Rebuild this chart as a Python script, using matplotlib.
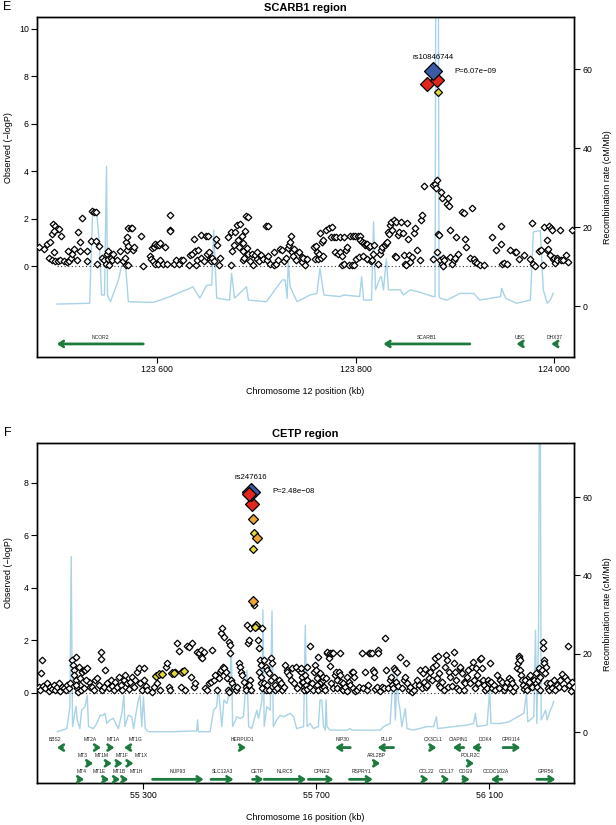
import matplotlib
matplotlib.use('Agg')
import matplotlib.pyplot as plt
import matplotlib.transforms as mtransforms

plt.rcParams['font.family'] = ['Liberation Sans', 'DejaVu Sans']

# ------------------------------------------------------------------------------
# Panel E : SCARB1 region (chr12)
# ------------------------------------------------------------------------------
e_pos = [123481, 123486, 123489, 123492, 123494, 123495, 123497, 123499, 123501, 123503, 123496, 123491,
         123494, 123496, 123497, 123500, 123502, 123506, 123509, 123511, 123513, 123510, 123514, 123516,
         123519, 123520, 123522, 123522, 123524, 123529, 123529, 123533, 123534, 123536, 123538, 123538,
         123539, 123541, 123544, 123546, 123548, 123549, 123550, 123551, 123552, 123554, 123555, 123556,
         123560, 123563, 123566, 123568, 123569, 123570, 123569, 123570, 123571, 123571, 123574, 123575,
         123576, 123577, 123571, 123584, 123586, 123593, 123594, 123595, 123597, 123598, 123600, 123602,
         123603, 123596, 123598, 123601, 123603, 123606, 123608, 123610, 123613, 123613, 123613, 123617,
         123619, 123622, 123624, 123626, 123632, 123633, 123635, 123637, 123638, 123639, 123640, 123641,
         123644, 123644, 123647, 123649, 123650, 123651, 123652, 123653, 123654, 123655, 123657, 123659,
         123660, 123662, 123663, 123671, 123674, 123674, 123675, 123677, 123678, 123680, 123681, 123682,
         123683, 123685, 123686, 123687, 123687, 123688, 123689, 123690, 123692, 123691, 123692, 123694,
         123696, 123697, 123699, 123701, 123701, 123703, 123705, 123707, 123710, 123712, 123711, 123712,
         123714, 123718, 123718, 123720, 123722, 123724, 123726, 123728, 123730, 123732, 123733, 123734,
         123735, 123736, 123737, 123738, 123740, 123743, 123746, 123748, 123749,
         123746, 123747, 123749, 123751, 123758, 123759, 123760, 123761, 123762, 123763, 123764, 123765,
         123766, 123767, 123767, 123770, 123773, 123775, 123776, 123778, 123779, 123780, 123782, 123784,
         123784, 123786, 123786, 123788, 123788, 123790, 123791, 123793, 123794, 123796, 123797, 123798,
         123799, 123800, 123802, 123803, 123804, 123804, 123806, 123807, 123808, 123809, 123810, 123811,
         123811, 123813, 123814, 123815, 123816, 123817, 123818, 123823, 123825, 123826, 123827, 123830,
         123831, 123832, 123833, 123834, 123835, 123836, 123837, 123839, 123840, 123841, 123841, 123843,
         123844, 123846, 123848, 123849, 123850, 123851, 123852, 123853, 123854, 123855, 123857, 123859,
         123860, 123862, 123865, 123866, 123867, 123869, 123878, 123878, 123880, 123881, 123882, 123882,
         123883, 123884, 123885, 123886, 123887, 123887, 123888, 123888, 123889, 123892, 123893, 123894,
         123895, 123895, 123897, 123899, 123900, 123901, 123903, 123907, 123909, 123910, 123911, 123915,
         123917, 123919, 123920, 123922, 123925, 123929, 123937, 123941, 123946, 123946, 123947, 123949,
         123952, 123955, 123961, 123962, 123965, 123970, 123976, 123978, 123979, 123981, 123985, 123987,
         123989, 123990, 123993, 123993, 123994, 123995, 123996, 123997, 123998, 123999, 124000, 124001,
         124003, 124003, 124006, 124007, 124009, 124012, 124014, 124018]
e_logp = [0.80, 0.73, 0.94, 1.01, 1.36, 1.78, 1.71, 1.57, 1.57, 1.29, 1.50, 0.35,
          0.27, 0.59, 0.21, 0.21, 0.24, 0.21, 0.17, 0.21, 0.35, 0.62, 0.52, 0.73,
          0.24, 1.43, 1.01, 0.62, 2.04, 0.62, 0.21, 1.05, 2.32, 2.27, 2.27, 1.05,
          0.07, 0.83, 0.35, 0.24, 0.10, 0.52, 0.63, 0.31, 0.03, 0.35, 0.24, 0.52,
          0.27, 0.62, 0.21, 0.35, 0.03, 0.66, 1.01, 1.22, 0.83, 1.60, 1.61, 1.61,
          0.66, 0.80, 0.03, 1.26, 0.00, 0.41, 0.31, 0.77, 0.80, 0.94, 0.91, 0.91,
          0.97, 0.21, 0.07, 0.10, 0.24, 0.07, 0.80, 0.07, 2.15, 1.53, 1.47, 0.07,
          0.24, 0.07, 0.27, 0.24, 0.03, 0.48, 0.52, 1.15, 0.62, 0.03, 0.24, 0.66,
          1.32, 0.35, 0.21, 1.29, 0.52, 1.29, 0.59, 0.31, 0.21, 0.35, 0.21, 1.15,
          0.87, 0.03, 0.35, 1.22, 1.43, 0.03, 0.63, 0.91, 1.43, 1.75, 1.11, 0.80,
          1.78, 1.25, 0.62, 0.24, 0.97, 0.35, 1.50, 2.13, 2.09, 0.77, 0.52, 0.21,
          0.52, 0.03, 0.45, 0.31, 0.59, 0.21, 0.45, 0.31, 1.71, 1.71, 0.24, 0.41,
          0.10, 0.59, 0.03, 0.10, 0.27, 0.73, 0.66, 0.21, 0.35, 0.77, 0.91, 1.01,
          1.25, 0.59, 0.41, 0.73, 0.27, 0.59, 0.38, 0.21, 0.31,
          0.18, 0.36, 0.04, 0.28, 0.79, 0.32, 0.84, 0.60, 0.28, 0.53, 1.38, 0.36,
          1.02, 1.09, 0.42, 1.52, 1.59, 1.24, 1.63, 1.24, 0.60, 1.24, 0.53, 1.24,
          0.60, 0.42, 0.04, 1.24, 0.11, 0.67, 0.81, 0.04, 1.26, 0.04, 1.26, 0.04,
          1.26, 0.32, 1.26, 0.39, 1.26, 1.12, 1.02, 0.42, 0.98, 0.88, 0.95, 0.95,
          0.32, 0.79, 0.84, 0.22, 0.25, 0.51, 0.88, 0.08, 0.53, 0.67, 0.81, 0.88,
          0.98, 1.02, 1.45, 1.35, 1.73, 1.87, 1.52, 1.94, 0.42, 1.87, 0.39, 1.31,
          1.45, 1.87, 1.38, 0.46, 0.11, 0.04, 1.80, 1.16, 0.46, 0.18, 0.39, 1.40,
          1.59, 0.70, 0.25, 1.94, 2.15, 3.38, 0.28, 3.41, 3.48, 3.31, 3.65, 0.60,
          1.35, 1.31, 0.25, 3.13, 2.85, 0.11, 0.36, 0.00, 0.25, 2.61, 2.85, 2.53,
          1.54, 0.39, 0.11, 0.25, 0.36, 1.24, 0.51, 2.29, 2.22, 1.16, 0.81, 0.36,
          2.43, 0.28, 0.18, 0.14, 0.04, 0.04, 1.24, 0.67, 0.95, 1.68, 0.11, 0.14,
          0.11, 0.67, 0.60, 0.60, 0.28, 0.46, 0.28, 1.80, 0.08, 0.00, 0.65, 0.67,
          0.04, 1.63, 1.12, 0.67, 0.74, 1.68, 0.46, 1.59, 1.52, 0.32, 0.36, 0.14,
          0.36, 0.25, 1.52, 0.25, 0.25, 0.46, 0.18, 1.54]

# SNPs in LD with the lead SNP (class: lead / high / mid / low)
e_ld_pos = [123883, 123872, 123882, 123878]
e_ld_logp = [7.34, 7.66, 7.83, 8.22]
e_ld_class = ['low', 'high', 'high', 'lead']
e_lead_name = 'rs10846744'
e_lead_p = 'P=6.07e\u221209'

e_rec_pos = [123499, 123532, 123535, 123539, 123542, 123544, 123547, 123549, 123550, 123553, 123561,
             123564, 123568, 123571, 123596, 123613, 123633, 123636, 123643, 123650, 123655, 123657,
             123660, 123673, 123675, 123678, 123690, 123692, 123710, 123726, 123729, 123731, 123732,
             123734, 123737, 123741, 123754, 123761, 123764, 123768, 123784, 123788, 123804, 123806,
             123808, 123816, 123818, 123820, 123825, 123826, 123828, 123831, 123833, 123845, 123848,
             123855, 123862, 123878, 123880, 123881, 123883, 123884, 123885, 123892, 123905, 123919,
             123925, 123946, 123947, 123951, 123962, 123976, 123979, 123986, 123989, 123993, 123996,
             123999]
e_rec_rate = [0.5, 0.7, 23.4, 24.3, 15.0, 2.8, 2.8, 35.4, 2.8, 1.1, 6.6,
              10.0, 10.8, 1.1, 0.9, 2.4, 4.5, 4.9, 2.0, 5.3, 5.3, 19.2,
              2.0, 1.5, 8.3, 2.0, 4.9, 1.5, 1.1, 6.6, 6.6, 2.0, 11.2,
              4.9, 3.2, 1.1, 2.8, 3.2, 9.5, 2.8, 2.4, 2.8, 2.4, 7.4,
              1.5, 1.5, 21.3, 4.1, 7.4, 7.4, 4.1, 12.0, 4.1, 4.1, 2.8,
              4.1, 3.7, 2.4, 2.4, 120.0, 120.0, 2.4, 2.0, 1.5, 3.2, 3.2,
              1.5, 2.4, 4.5, 2.0, 0.7, 1.5, 18.8, 19.1, 4.1, 0.7, 1.5,
              3.2]

e_gene_name = ['NCOR2', 'SCARB1', 'UBC', 'DHX37']
e_gene_start = [123499, 123828, 123962, 123997]
e_gene_end = [123586, 123915, 123968, 124003]
e_gene_strand = ['-', '-', '-', '-']
e_gene_row = [0, 0, 0, 0]

# ------------------------------------------------------------------------------
# Panel F : CETP region (chr16)
# ------------------------------------------------------------------------------
f_pos = [55059, 55063, 55064, 55067, 55069, 55074, 55078, 55082, 55086, 55090, 55094, 55097,
         55101, 55105, 55109, 55113, 55117, 55121, 55124, 55128, 55132, 55136, 55138, 55140,
         55141, 55144, 55146, 55148, 55151, 55154, 55155, 55159, 55163, 55167, 55171, 55175,
         55178, 55146, 55149, 55157, 55164, 55169, 55182, 55186, 55190, 55194, 55198, 55202,
         55203, 55205, 55209, 55213, 55217, 55221, 55225, 55228, 55232, 55236, 55240, 55244,
         55248, 55252, 55255, 55259, 55263, 55267, 55271, 55275, 55279, 55282, 55286, 55290,
         55294, 55298, 55302, 55303, 55306, 55309, 55321, 55325, 55333, 55340, 55352, 55356,
         55360, 55363, 55375, 55379, 55383, 55387, 55398, 55402, 55406, 55410, 55414, 55417,
         55421, 55425, 55429, 55433, 55434, 55437, 55441, 55444, 55448, 55452, 55456, 55460,
         55464, 55467, 55471, 55475, 55479, 55483, 55487, 55478, 55481, 55485, 55488, 55491,
         55493, 55496, 55498, 55501, 55502, 55504, 55506, 55498, 55510, 55514, 55518, 55521,
         55525, 55527, 55529, 55533, 55537, 55539, 55541, 55542, 55545, 55548, 55547, 55545,
         55550, 55557, 55564, 55565, 55568, 55570, 55572, 55575, 55579, 55583, 55587, 55591,
         55595, 55595, 55568, 55572, 55573, 55575, 55579, 55583, 55587, 55591, 55599, 55602,
         55604, 55606, 55610, 55614, 55618, 55622, 55626, 55629, 55632, 55633, 55637, 55641,
         55645, 55649, 55653, 55656, 55660, 55664, 55668, 55672, 55676, 55680,
         55665, 55667, 55669, 55671, 55672, 55675, 55677, 55678, 55680, 55685, 55686, 55690,
         55692, 55694, 55698, 55700, 55702, 55703, 55705, 55705, 55709, 55711, 55713, 55715,
         55717, 55719, 55721, 55723, 55725, 55726, 55729, 55731, 55732, 55734, 55736, 55739,
         55740, 55744, 55746, 55748, 55749, 55752, 55754, 55756, 55757, 55759, 55762, 55763,
         55767, 55771, 55772, 55775, 55779, 55783, 55785, 55786, 55788, 55790, 55794, 55798,
         55806, 55809, 55813, 55817, 55821, 55823, 55825, 55829, 55831, 55833, 55834, 55836,
         55840, 55842, 55844, 55848, 55852, 55856, 55860, 55862, 55865, 55870, 55873, 55875,
         55877, 55880, 55883, 55885, 55888, 55890, 55894, 55898, 55902, 55906, 55908, 55910,
         55914, 55917, 55921, 55925, 55929, 55933, 55937, 55941, 55944, 55948, 55950, 55952,
         55954, 55956, 55960, 55964, 55968, 55971, 55975, 55978, 55979, 55981, 55983, 55985,
         55987, 55991, 55995, 55998, 56001, 56002, 56004, 56006, 56010, 56014, 56018, 56019,
         56022, 56024, 56025, 56029, 56032, 56033, 56037, 56041, 56042, 56045, 56049, 56052,
         56056, 56060, 56062, 56064, 56068, 56070, 56072, 56075, 56079, 56081, 56083, 56086,
         56089, 56091, 56095, 56096, 56099, 56102, 56104, 56106, 56110, 56114, 56118, 56122,
         56126, 56129, 56133, 56137, 56141, 56145, 56147, 56150, 56153, 56156, 56160, 56164,
         56166, 56168, 56168, 56170, 56172, 56173, 56176, 56178, 56181, 56183, 56186, 56187,
         56191, 56193, 56195, 56199, 56203, 56207, 56209, 56210, 56212, 56214, 56217, 56218,
         56222, 56224, 56224, 56226, 56227, 56230, 56232, 56234, 56235, 56237, 56241, 56245,
         56249, 56253, 56257, 56261, 56264, 56268, 56272, 56276, 56280, 56281, 56284, 56288,
         56291, 56295]
f_logp = [0.22, 0.11, 0.75, 1.26, 0.27, 0.18, 0.37, 0.09, 0.24, 0.14, 0.30, 0.11,
          0.22, 0.37, 0.09, 0.24, 0.18, 0.11, 0.30, 0.18, 0.39, 1.26, 1.07, 0.88,
          0.69, 0.50, 1.38, 0.18, 1.00, 0.56, 0.30, 0.81, 0.88, 0.88, 0.94, 0.43,
          0.24, 0.30, 0.05, 0.11, 0.18, 0.50, 0.22, 0.11, 0.50, 0.56, 0.30, 1.57,
          1.28, 0.11, 0.22, 0.88, 0.37, 0.18, 0.50, 0.27, 0.11, 0.43, 0.22, 0.62,
          0.30, 0.11, 0.50, 0.69, 0.37, 0.14, 0.43, 0.62, 0.22, 0.50, 0.81, 0.94,
          0.37, 0.11, 0.50, 0.94, 0.27, 0.11, 0.05, 0.24, 0.37, 0.11, 1.00, 1.13,
          0.24, 0.11, 0.81, 1.89, 1.61, 0.22, 0.11, 1.77, 1.74, 0.60, 1.92, 0.24,
          0.39, 1.57, 1.51, 1.38, 1.64, 1.32, 1.57, 0.18, 0.11, 0.39, 0.43, 1.64,
          0.50, 0.69, 0.11, 0.56, 2.30, 2.46, 2.15, 0.81, 0.88, 1.00, 0.94, 0.81,
          0.56, 0.11, 1.96, 1.51, 1.83, 0.50, 0.37, 0.05, 0.22, 0.11, 0.24, 1.13,
          1.00, 0.81, 0.69, 0.43, 0.22, 0.11, 2.59, 1.89, 2.02, 2.46, 0.50, 0.30,
          0.11, 3.35, 2.55, 2.02, 1.70, 1.26, 1.07, 2.46, 1.26, 1.00, 0.88, 0.77,
          1.32, 0.50, 0.81, 0.62, 0.37, 0.18, 0.37, 0.11, 0.30, 0.11, 1.13, 0.62,
          0.30, 0.11, 0.18, 0.50, 0.37, 0.11, 0.22, 1.07, 0.88, 0.81, 0.69, 0.50,
          0.94, 0.37, 1.00, 0.18, 0.88, 0.81, 0.43, 0.62, 0.11, 1.00,
          0.94, 0.62, 0.43, 0.22, 0.11, 0.69, 0.30, 0.50, 0.14, 1.79, 0.22, 0.37,
          0.11, 0.81, 1.07, 0.88, 0.56, 0.30, 1.36, 0.11, 0.75, 0.43, 0.18, 0.50,
          0.62, 0.22, 0.11, 0.56, 1.51, 1.57, 1.32, 1.03, 1.54, 0.37, 1.54, 0.18,
          1.54, 0.69, 0.81, 0.50, 0.18, 0.81, 1.54, 0.69, 0.43, 0.14, 0.11, 0.37,
          0.22, 0.62, 0.09, 0.43, 0.30, 0.81, 0.18, 0.81, 0.62, 0.09, 0.11, 0.24,
          1.54, 0.18, 0.81, 0.11, 0.30, 1.54, 1.54, 1.54, 0.88, 0.62, 0.81, 0.14,
          0.22, 1.64, 1.54, 0.09, 0.22, 0.18, 2.08, 0.88, 0.18, 0.50, 0.60, 0.30,
          0.18, 0.94, 0.88, 0.43, 0.81, 0.27, 1.38, 0.18, 0.50, 0.62, 1.13, 0.37,
          0.11, 0.22, 0.05, 0.11, 0.30, 0.50, 0.30, 0.88, 0.18, 0.77, 0.43, 0.90,
          0.24, 0.30, 0.56, 0.81, 0.50, 1.00, 1.32, 1.07, 0.56, 1.41, 0.30, 0.75,
          0.22, 0.43, 0.11, 1.00, 1.45, 1.26, 0.24, 0.81, 0.62, 0.27, 1.57, 1.13,
          0.81, 0.50, 0.18, 0.11, 0.94, 1.00, 0.75, 0.43, 0.11, 0.37, 0.62, 0.88,
          0.37, 1.00, 1.19, 0.50, 0.18, 0.94, 0.69, 0.37, 1.28, 1.32, 0.94, 0.50,
          0.30, 0.11, 0.18, 0.50, 0.37, 1.13, 0.43, 0.18, 0.30, 0.11, 0.69, 0.18,
          0.50, 0.43, 0.11, 0.22, 0.43, 0.56, 0.18, 0.50, 0.37, 0.09, 0.22, 0.94,
          1.13, 1.41, 1.32, 1.26, 0.88, 0.69, 0.50, 0.30, 0.14, 0.50, 0.24, 0.11,
          0.62, 0.43, 0.69, 0.24, 0.50, 0.37, 0.75, 0.22, 0.50, 0.94, 0.11, 0.62,
          0.88, 1.96, 1.70, 1.26, 1.13, 0.75, 1.00, 0.37, 0.18, 0.11, 0.37, 0.18,
          0.50, 0.11, 0.30, 0.22, 0.50, 0.72, 0.18, 0.62, 0.50, 1.79, 0.30, 0.09,
          0.43, 0.24]

f_ld_pos = [55329, 55336, 55344, 55367, 55371, 55390, 55394, 55560, 55559, 55553, 55557,
            55553, 55563, 55554, 55551, 55549, 55546]
f_ld_logp = [0.65, 0.72, 0.72, 0.75, 0.77, 0.81, 0.84, 2.60, 2.53, 5.48, 6.09,
             3.50, 5.90, 6.62, 7.19, 7.66, 7.58]
f_ld_class = ['low', 'low', 'low', 'low', 'low', 'low', 'low', 'low', 'low', 'low', 'low',
              'mid', 'mid', 'mid', 'high', 'lead', 'high']
f_lead_name = 'rs247616'
f_lead_p = 'P=2.48e\u221208'

f_rec_pos = [55102, 55124, 55131, 55134, 55137, 55145, 55148, 55154, 55158, 55166, 55171, 55174,
             55185, 55193, 55201, 55208, 55212, 55216, 55224, 55231, 55243, 55251, 55256, 55258,
             55266, 55274, 55278, 55289, 55293, 55297, 55301, 55305, 55312, 55370, 55424, 55426,
             55428, 55455, 55463, 55470, 55474, 55482, 55487, 55494, 55501, 55504, 55507, 55517,
             55524, 55532, 55540, 55544, 55551, 55563, 55567, 55575, 55577, 55580, 55586, 55594,
             55598, 55601, 55609, 55617, 55625, 55640, 55648, 55655, 55671, 55675, 55679, 55686,
             55694, 55705, 55709, 55713, 55717, 55721, 55723, 55725, 55732, 55771, 55779, 55783,
             55848, 55856, 55871, 55879, 55883, 55887, 55890, 55894, 55898, 55906, 55910, 55925,
             55956, 55971, 55978, 55981, 56018, 56049, 56064, 56068, 56072, 56095, 56101, 56104,
             56126, 56145, 56172, 56180, 56186, 56189, 56203, 56207, 56210, 56214, 56217, 56220,
             56230, 56234, 56241, 56245, 56249]
f_rec_rate = [0.1, 0.9, 6.5, 44.8, 1.4, 6.5, 3.1, 0.9, 5.6, 6.5, 9.4, 1.4,
              0.9, 2.2, 4.3, 4.3, 4.8, 2.2, 3.1, 3.5, 0.9, 4.8, 9.4, 1.4,
              4.3, 3.9, 0.9, 8.2, 9.4, 1.4, 9.0, 0.9, 0.1, 0.1, 0.3, 3.1,
              0.1, 0.1, 5.6, 6.5, 11.6, 1.4, 8.2, 7.3, 11.6, 22.6, 1.4, 3.9,
              3.5, 3.9, 15.8, 1.4, 0.9, 5.6, 3.5, 8.2, 31.2, 1.4, 6.5, 5.6,
              30.8, 1.4, 3.1, 4.3, 3.9, 4.8, 3.9, 0.9, 1.4, 27.3, 1.4, 2.2,
              0.9, 1.4, 8.2, 8.2, 1.4, 0.5, 8.2, 1.4, 0.5, 0.5, 0.9, 0.5,
              0.5, 1.4, 2.2, 16.7, 3.1, 15.0, 8.2, 5.6, 1.4, 6.0, 0.9, 0.5,
              1.4, 1.4, 3.9, 0.9, 1.4, 1.8, 2.2, 4.8, 1.4, 1.8, 10.7, 2.2,
              2.2, 2.6, 4.3, 4.8, 9.9, 2.6, 3.9, 26.0, 2.2, 25.6, 120.0, 3.1,
              5.6, 3.1, 5.6, 6.5, 7.8]

f_gene_name = ['BBS2', 'MT2A', 'MT1A', 'MT1G', 'HERPUD1', 'NIP30', 'PLLP', 'CX3CL1', 'CIAPIN1', 'DOK4',
               'GPR114', 'MT3', 'MT1M', 'MT1F', 'MT1X', 'ARL2BP', 'POLR2C', 'MT4', 'MT1E', 'MT1B',
               'MT1H', 'NUP93', 'SLC12A3', 'CETP', 'NLRC5', 'CPNE2', 'RSPRY1', 'CCL22', 'CCL17', 'COG9',
               'CCDC102A', 'GPR56']
f_gene_start = [55101, 55191, 55221, 55256, 55524, 55744, 55842, 55964, 56016, 56060,
                56132, 55171, 55215, 55239, 55266, 55834, 56052, 55150, 55208, 55234,
                55253, 55322, 55457, 55553, 55580, 55682, 55777, 55947, 55996, 56039,
                56104, 56210]
f_gene_end = [55114, 55203, 55234, 55270, 55538, 55779, 55879, 55978, 56041, 56079,
              56172, 55185, 55228, 55253, 55278, 55848, 56065, 55164, 55222, 55247,
              55266, 55440, 55509, 55578, 55677, 55740, 55831, 55960, 56008, 56055,
              56129, 56253]
f_gene_label_x = [55097, 55178, 55230, 55282, 55530, 55762, 55862, 55970, 56029, 56091,
                  56151, 55161, 55205, 55251, 55295, 55840, 56058, 55158, 55199, 55244,
                  55284, 55380, 55483, 55565, 55628, 55713, 55804, 55954, 56002, 56046,
                  56116, 56232]
f_gene_strand = ['-', '+', '+', '-', '+', '-', '-', '+', '-', '-',
                 '+', '+', '+', '+', '+', '+', '+', '+', '+', '+',
                 '+', '+', '+', '+', '+', '+', '+', '+', '+', '+',
                 '-', '+']
f_gene_row = [0, 0, 0, 0, 0, 0, 0, 0, 0, 0,
              0, 1, 1, 1, 1, 1, 1, 2, 2, 2,
              2, 2, 2, 2, 2, 2, 2, 2, 2, 2,
              2, 2]

REC_COLOR = '#a9d3e6'
GENE_COLOR = '#1d7a3e'
LD_STYLE = {
    'lead': dict(color='#3b5aa6', ms=9.5),
    'high': dict(color='#e2261d', ms=7.0),
    'mid': dict(color='#f2a431', ms=5.2),
    'low': dict(color='#e4dc3a', ms=3.8),
}


# ------------------------------------------------------------------------------
# One regional association panel
# ------------------------------------------------------------------------------
def draw_region(fig, rect, letter, title, chrom, pos, logp, ld_pos, ld_logp, ld_class,
                lead_name, lead_p, rec_pos, rec_rate, genes, xlim, ylim, ylim2, xticks,
                ylabel_y, arrow_y, label_y):
    ax = fig.add_axes(rect)
    ax2 = ax.twinx()
    ax.set_zorder(ax2.get_zorder() + 1)
    ax.patch.set_visible(False)

    # recombination rate on the right axis
    ax2.plot(rec_pos, rec_rate, color=REC_COLOR, lw=1.0, zorder=1)
    ax2.set_ylim(*ylim2)
    ax2.set_yticks([0, 20, 40, 60])
    ax2.tick_params(labelsize=6.3, length=4, width=0.8, pad=2)

    # dotted baseline
    ax.plot([rec_pos[0], rec_pos[-1]], [0, 0], color='#333333', lw=0.8, ls=(0, (1, 2.2)), zorder=2)

    # all SNPs
    ax.plot(pos, logp, ls='none', marker='D', ms=3.4, mfc='white', mec='black', mew=0.9, zorder=3)

    # SNPs in LD with the lead, drawn in listed order
    for x, y, c in zip(ld_pos, ld_logp, ld_class):
        st = LD_STYLE[c]
        ax.plot([x], [y], ls='none', marker='D', ms=st['ms'], mfc=st['color'],
                mec='black', mew=0.9, zorder=4)

    i_lead = ld_class.index('lead')
    lx, ly = ld_pos[i_lead], ld_logp[i_lead]
    ax.text(lx, ly + 0.42, lead_name, fontsize=5.6, ha='center', va='bottom')
    ax.text(lx + (xlim[1] - xlim[0]) * 0.04, ly, lead_p, fontsize=5.6, ha='left', va='center')

    # genes
    for name, start, end, strand, row, lab_x in genes:
        y = arrow_y[row]
        tail, head = (start, end) if strand == '+' else (end, start)
        ax.annotate('', xy=(head, y), xytext=(tail, y),
                    arrowprops=dict(arrowstyle='->,head_length=0.45,head_width=0.3',
                                    color=GENE_COLOR, lw=2.0, shrinkA=0, shrinkB=0,
                                    mutation_scale=7),
                    zorder=3)
        ax.text(lab_x, label_y[row], name, fontsize=3.6, ha='center', va='center', color='#222222')

    ax.set_xlim(*xlim)
    ax.set_ylim(*ylim)
    ax.set_yticks([0, 2, 4, 6, 8, 10] if ylim[1] > 10 else [0, 2, 4, 6, 8])
    ax.set_xticks(xticks)
    ax.set_xticklabels(['{:,}'.format(t).replace(',', ' ') for t in xticks])
    ax.tick_params(labelsize=6.3, length=4, width=0.8, pad=2)
    for a in (ax, ax2):
        for sp in a.spines.values():
            sp.set_linewidth(1.0)

    trans = mtransforms.blended_transform_factory(ax.transAxes, ax.transData)
    ax.text(-0.054, ylabel_y, 'Observed (\u2212logP)', rotation=90, fontsize=6.5,
            ha='center', va='center', transform=trans)
    trans2 = mtransforms.blended_transform_factory(ax2.transAxes, ax2.transData)
    ax2.text(1.062, 30, 'Recombination rate (cM/Mb)', rotation=90, fontsize=6.5,
             ha='center', va='center', transform=trans2)

    ax.text(0.5, -0.102, 'Chromosome %d position (kb)' % chrom, fontsize=6.5,
            ha='center', va='center', transform=ax.transAxes)
    ax.text(0.5, 1.012, title, fontsize=8, fontweight='bold', ha='center', va='bottom',
            transform=ax.transAxes)
    ax.text(-0.055, 1.012, letter, fontsize=9, ha='center', va='bottom', transform=ax.transAxes)
    return ax


fig = plt.figure(figsize=(6.16, 8.25), dpi=100)

e_genes = [(n, s, e, d, r, (s + e) / 2)
           for n, s, e, d, r in zip(e_gene_name, e_gene_start, e_gene_end, e_gene_strand, e_gene_row)]
draw_region(fig, [0.0601, 0.5673, 0.8718, 0.4121], 'E', 'SCARB1 region', 12,
            e_pos, e_logp, e_ld_pos, e_ld_logp, e_ld_class, e_lead_name, e_lead_p,
            e_rec_pos, e_rec_rate, e_genes,
            (123479, 124020), (-3.83, 10.5), (-12.9, 73.2), [123600, 123800, 124000],
            5.0, [-3.28], [-2.99])

f_genes = list(zip(f_gene_name, f_gene_start, f_gene_end, f_gene_strand, f_gene_row, f_gene_label_x))
draw_region(fig, [0.0601, 0.0509, 0.8718, 0.4121], 'F', 'CETP region', 16,
            f_pos, f_logp, f_ld_pos, f_ld_logp, f_ld_class, f_lead_name, f_lead_p,
            f_rec_pos, f_rec_rate, f_genes,
            (55055, 56296), (-3.43, 9.52), (-13.0, 73.8), [55300, 55700, 56100],
            4.6, [-2.08, -2.68, -3.29], [-1.79, -2.39, -3.0])

fig.savefig('out.png', dpi=100)
